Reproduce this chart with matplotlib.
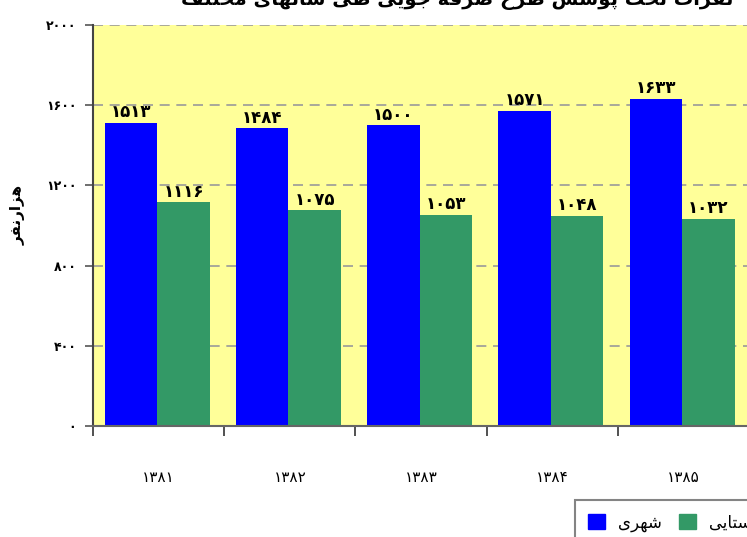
import matplotlib

matplotlib.use("Agg")
import matplotlib.pyplot as plt  # noqa: E402
from matplotlib.patches import Patch  # noqa: E402

# dados do grafico
years = ["1381", "1382", "1383", "1384", "1385"]
urban = [1513, 1484, 1500, 1571, 1633]
rural = [1116, 1075, 1053, 1048, 1032]
yticks = [0, 400, 800, 1200, 1600, 2000]
series_names = ["شهری", "روستایی"]
title = "نفرات تحت پوشش طرح صرفه جویی طی سالهای مختلف"
ylabel = "هزارنفر"

BLUE, GREEN, YELLOW = "#0000FF", "#339966", "#FFFF99"

FA_DIGITS = str.maketrans("0123456789", "۰۱۲۳۴۵۶۷۸۹")

# formas de apresentacao: isolada, final, inicial, medial
FORMS = {
    "ا": ("\uFE8D", "\uFE8E"), "د": ("\uFEA9", "\uFEAA"),
    "ر": ("\uFEAD", "\uFEAE"), "ز": ("\uFEAF", "\uFEB0"),
    "و": ("\uFEED", "\uFEEE"),
    "ب": ("\uFE8F", "\uFE90", "\uFE91", "\uFE92"),
    "پ": ("\uFB56", "\uFB57", "\uFB58", "\uFB59"),
    "ت": ("\uFE95", "\uFE96", "\uFE97", "\uFE98"),
    "ج": ("\uFE9D", "\uFE9E", "\uFE9F", "\uFEA0"),
    "ح": ("\uFEA1", "\uFEA2", "\uFEA3", "\uFEA4"),
    "خ": ("\uFEA5", "\uFEA6", "\uFEA7", "\uFEA8"),
    "س": ("\uFEB1", "\uFEB2", "\uFEB3", "\uFEB4"),
    "ش": ("\uFEB5", "\uFEB6", "\uFEB7", "\uFEB8"),
    "ص": ("\uFEB9", "\uFEBA", "\uFEBB", "\uFEBC"),
    "ط": ("\uFEC1", "\uFEC2", "\uFEC3", "\uFEC4"),
    "ع": ("\uFEC9", "\uFECA", "\uFECB", "\uFECC"),
    "ف": ("\uFED1", "\uFED2", "\uFED3", "\uFED4"),
    "ل": ("\uFEDD", "\uFEDE", "\uFEDF", "\uFEE0"),
    "م": ("\uFEE1", "\uFEE2", "\uFEE3", "\uFEE4"),
    "ن": ("\uFEE5", "\uFEE6", "\uFEE7", "\uFEE8"),
    "ه": ("\uFEE9", "\uFEEA", "\uFEEB", "\uFEEC"),
    "ی": ("\uFBFC", "\uFBFD", "\uFBFE", "\uFBFF"),
}


def shape(text: str) -> str:
    """Junta as letras e inverte a ordem (texto RTL simples)."""
    out = []
    for i, ch in enumerate(text):
        f = FORMS.get(ch)
        if f is None:
            out.append(ch)
            continue
        prev = text[i - 1] if i > 0 else " "
        nxt = text[i + 1] if i + 1 < len(text) else " "
        join_prev = prev in FORMS and len(FORMS[prev]) == 4
        join_next = len(f) == 4 and nxt in FORMS
        if join_prev and join_next:
            out.append(f[3])
        elif join_prev:
            out.append(f[1])
        elif join_next:
            out.append(f[2])
        else:
            out.append(f[0])
    return "".join(reversed(out))


plt.rcParams.update({"font.family": "DejaVu Sans"})

W, H = 747, 537
fig = plt.figure(figsize=(W / 100, H / 100), dpi=100)
ax = fig.add_axes([93 / W, 1 - 426 / H, (749 - 93) / W, (426 - 25) / H])
ax.set_facecolor(YELLOW)

n = len(years)
xs = list(range(n))
width = 0.4
bu = ax.bar([x + 0.09 for x in xs], urban, width=width, align="edge", color=BLUE)
br = ax.bar([x + 0.49 for x in xs], rural, width=width, align="edge", color=GREEN)

for bars, vals in ((bu, urban), (br, rural)):
    for b, v in zip(bars, vals):
        ax.text(b.get_x() + b.get_width() / 2, v + 8, str(v).translate(FA_DIGITS),
                ha="center", va="bottom", fontsize=12, fontweight="bold")

ax.set_xlim(0, n)
ax.set_ylim(0, 2000)
ax.set_yticks(yticks)
ax.set_yticklabels([str(t).translate(FA_DIGITS) for t in yticks],
                   fontsize=9, fontweight="bold")
ax.set_xticks(range(n + 1))
ax.set_xticklabels([])
ax.set_xticks([x + 0.5 for x in xs], minor=True)
ax.set_xticklabels([y.translate(FA_DIGITS) for y in years], minor=True, fontsize=11)
ax.tick_params(axis="x", which="minor", length=0, pad=32)
ax.tick_params(axis="x", which="major", length=7, width=1.2, color="#333333")
ax.tick_params(axis="y", length=6, width=1.2, color="#555555", pad=6)

ax.yaxis.grid(True, color="#999999", linestyle=(0, (6, 4)), linewidth=1.2)
ax.set_axisbelow(True)
for s in ("top", "right"):
    ax.spines[s].set_visible(False)
ax.spines["left"].set_color("#444444")
ax.spines["left"].set_linewidth(1.5)
ax.spines["bottom"].set_color("#666666")
ax.spines["bottom"].set_linewidth(1.5)

fig.text(18 / W, 1 - 215 / H, shape(ylabel), rotation=90, ha="center", va="center",
         fontsize=11, fontweight="bold")
fig.text(457 / W, 1 - 5 / H, shape(title), ha="center", va="baseline",
         fontsize=14, fontweight="bold")

handles = [Patch(color=BLUE), Patch(color=GREEN)]
leg = fig.legend(handles, [shape(s) for s in series_names], ncol=2, loc="upper left",
                 bbox_to_anchor=(575 / W, 1 - 500 / H), fontsize=12, frameon=True,
                 fancybox=False, edgecolor="#666666", handlelength=1.0,
                 handleheight=1.0, handletextpad=0.8, columnspacing=1.0,
                 borderpad=0.8, borderaxespad=0)
leg.get_frame().set_linewidth(1.5)

fig.savefig("out.png", dpi=100)
